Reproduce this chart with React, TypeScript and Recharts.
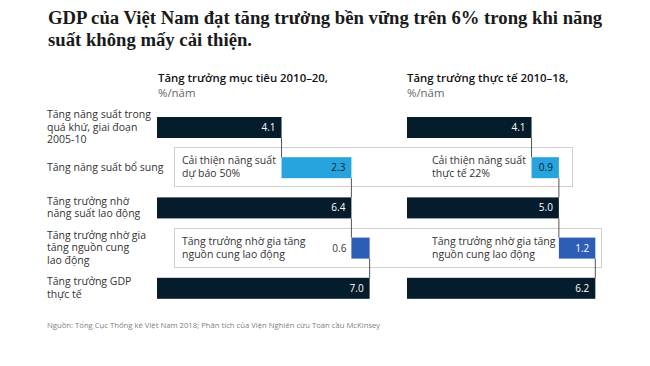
import React from "react"
import { BarChart, Bar, XAxis, YAxis, LabelList } from "recharts"

// row labels (left axis), one per step of the waterfall
const categories = [
  "Tăng năng suất trong\nquá khứ, giai đoạn\n2005-10",
  "Tăng năng suất bổ sung",
  "Tăng trưởng nhờ\nnăng suất lao động",
  "Tăng trưởng nhờ gia\ntăng nguồn cung\nlao động",
  "Tăng trưởng GDP\nthực tế",
]
// "total" rows start at 0, the others float on top of the previous row
const kinds = ["total", "productivity", "total", "labour", "total"]
const targetValues = [4.1, 2.3, 6.4, 0.6, 7.0]
const actualValues = [4.1, 0.9, 5.0, 1.2, 6.2]

const panelTitles = ["Tăng trưởng mục tiêu 2010–20,", "Tăng trưởng thực tế 2010–18,"]
const unitLabel = "%/năm"
const targetNotes = [["Cải thiện năng suất", "dự báo 50%"], ["Tăng trưởng nhờ gia tăng", "nguồn cung lao động"]]
const actualNotes = [["Cải thiện năng suất", "thực tế 22%"], ["Tăng trưởng nhờ gia tăng", "nguồn cung lao động"]]
const title = ["GDP của Việt Nam đạt tăng trưởng bền vững trên 6% trong khi năng", "suất không mấy cải thiện."]
const source = "Nguồn: Tổng Cục Thống kê Việt Nam 2018; Phân tích của Viện Nghiên cứu Toàn cầu McKinsey"

const COLORS: Record<string, string> = {
  total: "#051c2c",
  productivity: "#27a3dd",
  labour: "#2d5db4",
}

const W = 650
const H = 366
const PLOT_TOP = 107
const PLOT_H = 201
const BAND = PLOT_H / categories.length
const SANS = "'Open Sans', 'Noto Sans', sans-serif"
const BOX_LEFT = 174
const BOX_RIGHT = [573, 602]

function buildRows(values: number[]) {
  let end = 0
  return categories.map((name, i) => {
    const base = kinds[i] === "total" ? 0 : end
    end = base + values[i]
    return { name, base, value: values[i] }
  })
}

function CategoryTick(props: any) {
  const { y, payload } = props
  const lines = String(payload.value).split("\n")
  const lh = 12.5
  const y0 = y - ((lines.length - 1) * lh) / 2
  return (
    <text x={47} y={y0} fontSize={10.5} fill="#333" fontFamily={SANS}>
      {lines.map((l, i) => (
        <tspan key={i} x={47} y={y0 + i * lh} dy="0.35em">
          {l}
        </tspan>
      ))}
    </text>
  )
}

function StepShape(props: any) {
  const { x, y, width, height, index } = props
  const endX = x + width
  return (
    <g>
      <rect x={x} y={y} width={width} height={height} fill={COLORS[kinds[index]]} />
      {index < categories.length - 1 && (
        <line x1={endX} x2={endX} y1={y + height} y2={y + BAND} stroke="#555" strokeWidth={1} />
      )}
    </g>
  )
}

function ValueLabel(props: any) {
  const { x, y, width, height, value, index } = props
  const w = Number(width)
  const inside = w > 24
  const tx = inside ? Number(x) + w - 6 : Number(x) - 5
  const fill = !inside ? "#333" : kinds[index] === "productivity" ? "#0b1f30" : "#fff"
  return (
    <text x={tx} y={Number(y) + Number(height) / 2} dy="0.35em" textAnchor="end" fontSize={10} fill={fill} fontFamily={SANS}>
      {Number(value).toFixed(1)}
    </text>
  )
}

function Panel({ values, left, width, marginLeft, showAxis }: { values: number[]; left: number; width: number; marginLeft: number; showAxis: boolean }) {
  const data = buildRows(values)
  return (
    <div style={{ position: "absolute", left, top: 0 }}>
      <BarChart
        width={width}
        height={H}
        data={data}
        layout="vertical"
        barSize={21}
        margin={{ top: PLOT_TOP, bottom: H - PLOT_TOP - PLOT_H, left: marginLeft, right: 0 }}
      >
        <XAxis type="number" domain={[0, 8]} hide />
        <YAxis
          type="category"
          dataKey="name"
          hide={!showAxis}
          width={showAxis ? 110 : 0}
          axisLine={false}
          tickLine={false}
          interval={0}
          tick={CategoryTick}
        />
        <Bar dataKey="base" stackId="w" fill="transparent" isAnimationActive={false} />
        <Bar dataKey="value" stackId="w" shape={StepShape} isAnimationActive={false}>
          <LabelList dataKey="value" content={ValueLabel} />
        </Bar>
      </BarChart>
    </div>
  )
}

function Note({ lines, x, row }: { lines: string[]; x: number; row: number }) {
  const cy = PLOT_TOP + BAND * row + BAND / 2
  return (
    <div style={{ position: "absolute", left: x, top: cy - 13, fontSize: 10.5, lineHeight: "13px", color: "#333", whiteSpace: "nowrap" }}>
      {lines[0]}
      <br />
      {lines[1]}
    </div>
  )
}

export default function App() {
  const boxRows = kinds.map((k, i) => (k === "total" ? -1 : i)).filter((i) => i >= 0)
  return (
    <div style={{ position: "absolute", left: 0, top: 0, width: W, height: H, background: "#fff", overflow: "hidden", fontFamily: SANS }}>
      <div style={{ position: "absolute", left: 48, top: 7, fontFamily: "'Liberation Serif', serif", fontWeight: 700, fontSize: 18.7, lineHeight: "22px", color: "#1a1a1a", whiteSpace: "nowrap" }}>
        {title[0]}
        <br />
        {title[1]}
      </div>
      {panelTitles.map((t, i) => (
        <div key={t} style={{ position: "absolute", left: i === 0 ? 158 : 407, top: 70, fontSize: 11.4, lineHeight: "15px", whiteSpace: "nowrap" }}>
          <div style={{ color: "#111", fontWeight: 600 }}>{t}</div>
          <div style={{ color: "#666" }}>{unitLabel}</div>
        </div>
      ))}
      {boxRows.map((r, j) => (
        <div
          key={r}
          style={{
            position: "absolute",
            left: BOX_LEFT,
            top: PLOT_TOP + BAND * r,
            width: BOX_RIGHT[j] - BOX_LEFT,
            height: BAND,
            boxSizing: "border-box",
            border: "1.5px solid #cfcfcf",
          }}
        />
      ))}
      {boxRows.map((r, j) => (
        <React.Fragment key={"n" + r}>
          <Note lines={targetNotes[j]} x={182} row={r} />
          <Note lines={actualNotes[j]} x={432} row={r} />
        </React.Fragment>
      ))}
      <Panel values={targetValues} left={0} width={400} marginLeft={47} showAxis />
      <Panel values={actualValues} left={400} width={250} marginLeft={7} showAxis={false} />
      <div style={{ position: "absolute", left: 47, top: 320, fontSize: 7.7, color: "#808080", whiteSpace: "nowrap" }}>{source}</div>
    </div>
  )
}
